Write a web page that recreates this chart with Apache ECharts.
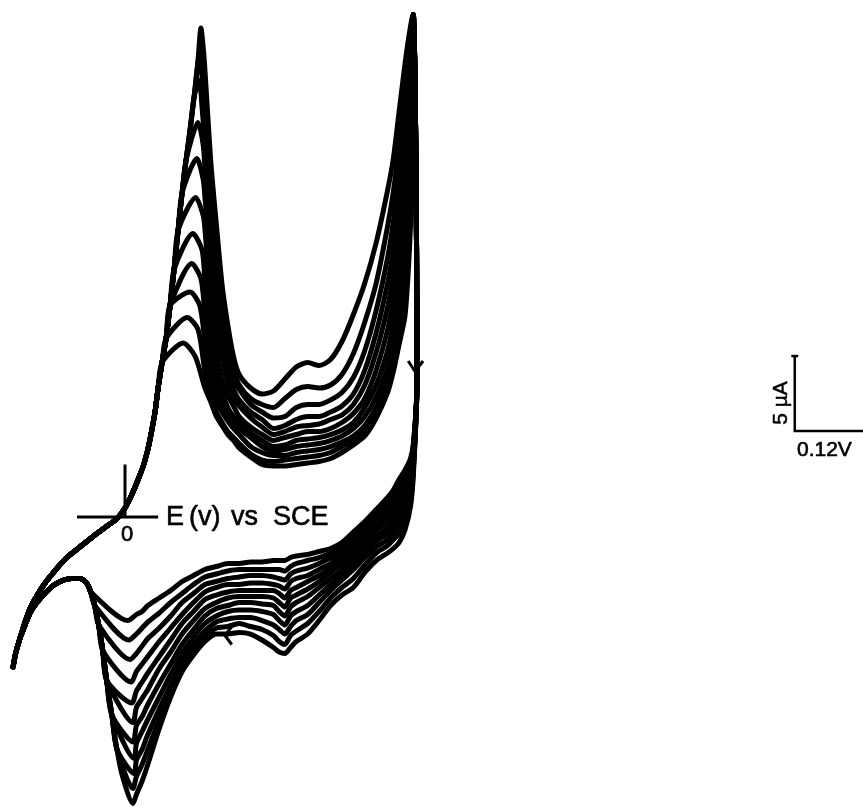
<!DOCTYPE html>
<html><head><meta charset="utf-8">
<script src="https://cdn.jsdelivr.net/npm/echarts/dist/echarts.min.js"></script>
<style>html,body{margin:0;padding:0;background:#fff}#c{width:863px;height:808px}</style>
</head><body><div id="c"></div>
<script>
// Cyclic voltammogram, 11 successive cycles. Potential E in V vs SCE, current in µA (anodic up).
const cycleCount = 11;

// forward sweep: common rising edge from the negative switching potential to the first anodic peak
const riseE = [-0.196,-0.191,-0.184,-0.175,-0.165,-0.152,-0.138,-0.121,-0.102,-0.079,-0.056,-0.035,-0.014,0.000,0.012,0.023,0.032,0.040,0.047,0.053,0.058,0.065,0.072,0.079,0.086,0.093,0.100,0.107,0.114,0.121,0.128];
const riseI = [-10.0,-9.0,-8.1,-7.0,-6.0,-5.1,-4.3,-3.5,-2.7,-2.0,-1.3,-0.7,-0.1,0.6,1.5,2.5,3.4,4.5,5.8,7.1,8.6,10.3,11.9,14.1,16.5,19.1,21.6,23.8,25.8,28.0,30.5];

// first anodic peak of every cycle
const anodicPeakE = [0.102,0.109,0.114,0.117,0.119,0.124,0.126,0.128,0.130,0.131,0.133];
const anodicPeakI = [11.6,13.3,15.0,16.9,18.9,21.3,23.9,26.3,29.1,30.9,32.6];
const anodicFootE = [0.123,0.128,0.131,0.133,0.135,0.137,0.137,0.137,0.135,0.135,0.137];
const anodicFootI = [10.7,12.5,14.1,15.9,17.8,20.1,22.5,24.8,27.3,29.3,31.3];

// forward sweep after the first peak
const forwardE = [0.14,0.15,0.16,0.17,0.18,0.19,0.20,0.22,0.24,0.26,0.28,0.30,0.32,0.34,0.36,0.38,0.40,0.42,0.44,0.46,0.47,0.48,0.49,0.495,0.50,0.503];
const forwardI = [
  [8.6,7.7,6.7,6.1,5.5,5.1,4.6,4.0,3.5,3.4,3.4,3.5,3.6,3.7,3.9,4.3,4.8,5.4,6.6,8.3,9.7,11.5,13.3,15.7,19.5,25.5],
  [9.7,8.1,7.0,6.3,5.7,5.3,4.9,4.2,3.8,3.7,3.8,3.9,4.0,4.1,4.3,4.7,5.1,5.7,6.9,8.6,9.9,11.7,13.8,16.6,20.8,26.8],
  [11.7,9.0,7.7,7.0,6.4,5.9,5.5,4.7,4.3,4.1,4.1,4.3,4.4,4.5,4.7,5.0,5.4,6.1,7.3,9.1,10.5,12.3,15.3,18.1,22.6,28.1],
  [13.6,10.7,8.6,7.5,6.9,6.4,5.9,5.3,4.7,4.4,4.5,4.7,4.8,4.9,5.1,5.4,5.9,6.7,8.0,10.0,11.6,13.8,16.9,19.9,24.3,29.5],
  [15.8,12.0,9.8,8.3,7.3,6.7,6.3,5.6,5.1,4.7,4.8,5.1,5.2,5.3,5.5,5.8,6.3,7.3,8.8,11.1,12.9,15.3,18.7,21.6,25.9,30.5],
  [19.2,14.6,11.0,9.1,8.1,7.4,6.7,6.0,5.5,5.1,5.3,5.5,5.7,5.7,5.9,6.3,6.9,7.9,9.8,12.5,14.5,17.1,20.7,23.5,27.5,31.1],
  [21.3,17.3,12.1,10.5,8.9,8.0,7.4,6.6,6.0,5.5,5.7,6.0,6.1,6.2,6.5,6.8,7.5,8.8,11.0,14.0,16.1,18.9,22.6,25.3,28.8,31.7],
  [23.3,19.0,14.5,11.5,9.5,8.5,7.8,7.0,6.5,5.9,6.1,6.5,6.7,6.7,7.0,7.4,8.2,9.8,12.3,15.6,17.8,20.8,24.5,27.0,29.8,32.1],
  [24.9,20.6,16.1,12.0,10.6,9.1,8.5,7.5,7.0,6.6,6.7,7.3,7.5,7.5,7.8,8.3,9.3,11.1,13.8,17.3,19.7,22.7,26.3,28.5,30.8,32.6],
  [26.7,21.7,17.5,13.7,11.1,9.8,8.8,7.9,7.5,7.3,7.9,8.5,8.7,8.6,8.8,9.5,10.9,13.0,15.6,19.4,21.7,24.7,28.3,30.2,32.0,33.1],
  [29.8,23.8,19.5,15.5,12.8,10.7,9.5,8.6,8.2,8.4,9.2,10.0,10.3,10.1,10.5,11.7,13.5,15.6,18.3,21.8,23.9,27.0,30.1,31.5,32.7,33.3]
];

// positive switching potential and start of the reverse sweep (common)
const vertexE = [0.505,0.508,0.510,0.511,0.511];
const vertexI = [33.5,29.1,21.1,14.5,8.5];

// reverse (cathodic) sweep
const reverseE = [0.505,0.50,0.49,0.48,0.47,0.46,0.44,0.42,0.40,0.38,0.36,0.34,0.32,0.30,0.29,0.28,0.27,0.26,0.24,0.22,0.20,0.18,0.16,0.14,0.12,0.10,0.08,0.06,0.04,0.03,0.02];
const reverseI = [
  [4.9,3.9,3.1,2.5,1.8,1.3,0.5,-0.3,-1.0,-1.7,-2.1,-2.3,-2.5,-2.6,-2.7,-2.9,-2.9,-2.9,-3.0,-3.0,-3.1,-3.1,-3.3,-3.5,-3.9,-4.3,-4.9,-5.4,-5.9,-6.3,-6.5],
  [4.7,3.7,2.7,2.1,1.5,1.1,0.2,-0.5,-1.3,-1.9,-2.4,-2.7,-2.9,-3.1,-3.3,-3.6,-3.5,-3.5,-3.5,-3.5,-3.5,-3.6,-3.8,-4.0,-4.5,-5.1,-5.7,-6.4,-7.0,-7.4,-7.8],
  [4.5,3.4,2.4,1.8,1.2,0.7,-0.1,-0.8,-1.5,-2.2,-2.7,-3.1,-3.4,-3.6,-3.8,-4.2,-4.1,-4.0,-3.9,-3.9,-4.0,-4.1,-4.3,-4.5,-5.1,-5.7,-6.6,-7.4,-8.1,-8.6,-9.1],
  [4.3,3.1,2.1,1.5,0.9,0.4,-0.3,-1.1,-1.8,-2.5,-3.1,-3.5,-3.9,-4.1,-4.3,-4.8,-4.6,-4.5,-4.4,-4.4,-4.5,-4.5,-4.7,-5.0,-5.7,-6.5,-7.4,-8.3,-9.3,-9.8,-10.3],
  [4.1,2.9,1.7,1.1,0.5,0.1,-0.6,-1.3,-2.1,-2.8,-3.4,-3.9,-4.3,-4.7,-4.9,-5.4,-5.1,-4.9,-4.9,-4.9,-4.9,-5.0,-5.2,-5.5,-6.3,-7.1,-8.2,-9.3,-10.4,-11.0,-11.6],
  [3.9,2.6,1.4,0.7,0.2,-0.3,-0.9,-1.7,-2.4,-3.1,-3.7,-4.3,-4.8,-5.2,-5.4,-6.0,-5.7,-5.4,-5.3,-5.3,-5.3,-5.4,-5.7,-6.1,-6.9,-7.8,-9.0,-10.1,-11.5,-12.1,-12.7],
  [3.7,2.3,1.0,0.3,-0.2,-0.7,-1.3,-2.0,-2.7,-3.5,-4.1,-4.7,-5.3,-5.7,-6.0,-6.6,-6.3,-5.9,-5.8,-5.7,-5.7,-5.9,-6.1,-6.6,-7.5,-8.5,-9.8,-11.1,-12.5,-13.3,-13.9],
  [3.5,1.9,0.6,-0.1,-0.6,-1.1,-1.6,-2.3,-3.1,-3.8,-4.5,-5.2,-5.9,-6.3,-6.6,-7.2,-6.9,-6.5,-6.3,-6.2,-6.2,-6.3,-6.6,-7.1,-8.0,-9.1,-10.5,-12.0,-13.5,-14.3,-15.1],
  [3.3,1.5,0.1,-0.5,-1.1,-1.5,-2.0,-2.7,-3.5,-4.2,-4.9,-5.7,-6.5,-6.9,-7.3,-7.8,-7.5,-7.2,-6.9,-6.7,-6.7,-6.8,-7.0,-7.6,-8.5,-9.6,-11.2,-12.8,-14.5,-15.5,-16.2],
  [3.1,1.1,-0.3,-1.1,-1.5,-1.9,-2.4,-3.2,-4.1,-4.7,-5.4,-6.3,-7.1,-7.6,-7.9,-8.5,-8.3,-7.9,-7.5,-7.3,-7.1,-7.3,-7.4,-8.0,-8.9,-10.0,-11.7,-13.5,-15.5,-16.5,-17.3],
  [2.8,0.7,-0.9,-1.7,-2.1,-2.4,-2.9,-3.7,-4.7,-5.2,-5.9,-6.9,-7.8,-8.3,-8.7,-9.1,-9.0,-8.7,-8.2,-7.8,-7.7,-7.8,-7.8,-8.3,-9.2,-10.3,-12.0,-14.1,-16.5,-17.6,-18.5]
];

// cathodic peak of every cycle
const cathodicPeakE = [0.005,0.007,0.009,0.011,0.012,0.014,0.014,0.016,0.016,0.014,0.014];
const cathodicPeakI = [-6.9,-8.2,-9.5,-11.0,-12.4,-13.7,-15.0,-16.1,-17.1,-18.1,-19.1];

// common return edge of the cathodic peaks and the tail to the negative switching potential
const returnE = [0.004,-0.005,-0.014,-0.023,-0.032,-0.039,-0.046,-0.053,-0.060,-0.067];
const returnI = [-18.5,-17.2,-15.5,-13.2,-10.9,-8.9,-7.2,-5.9,-5.0,-4.4];
const tailE = [-0.079,-0.093,-0.107,-0.123,-0.138,-0.152,-0.165,-0.175,-0.184,-0.191,-0.196];
const tailI = [-4.1,-4.1,-4.2,-4.5,-5.0,-5.6,-6.3,-7.2,-8.1,-9.0,-10.0];

// annotations (data units)
const axisCrossH = [[-0.084,0],[0.058,0]];
const axisCrossV = [[0,3.5],[0,0]];
const sweepArrowDown = [[0.496,10.4],[0.508,9.7],[0.522,10.4]];
const sweepArrowLeft = [[0.187,-7.3],[0.175,-7.9],[0.187,-8.5]];
const scaleBarOrigin = [1.173, 5.73];
const scaleBarCurrent = 5;    // µA
const scaleBarPotential = 0.12; // V

const series = [];
const lineStyle = {color:'#000', width:5, join:'round', cap:'round'};
for (let k = 0; k < cycleCount; k++) {
  const pts = [];
  for (let i = 0; i < riseE.length; i++)
    if (riseE[i] < anodicPeakE[k] && riseI[i] < anodicPeakI[k] - 0.8) pts.push([riseE[i], riseI[i]]);
  pts.push([anodicPeakE[k], anodicPeakI[k]]);
  pts.push([anodicFootE[k], anodicFootI[k]]);
  forwardE.forEach((e, i) => pts.push([e, forwardI[k][i]]));
  vertexE.forEach((e, i) => pts.push([e, vertexI[i]]));
  reverseE.forEach((e, i) => pts.push([e, reverseI[k][i]]));
  pts.push([cathodicPeakE[k], cathodicPeakI[k]]);
  returnE.forEach((e, i) => { if (e < cathodicPeakE[k] && returnI[i] > cathodicPeakI[k] + 1.0) pts.push([e, returnI[i]]); });
  tailE.forEach((e, i) => pts.push([e, tailI[i]]));
  series.push({type:'line', data:pts, symbol:'none', smooth:0.25, lineStyle:lineStyle, silent:true, animation:false});
}
function annot(data, w) {
  return {type:'line', data:data, symbol:'none', lineStyle:{color:'#000', width:w, join:'miter', cap:'butt'}, silent:true, animation:false};
}
series.push(annot(axisCrossH, 3));
series.push(annot(axisCrossV, 3));
series.push(annot(sweepArrowDown, 3));
series.push(annot(sweepArrowLeft, 3));
const sx = scaleBarOrigin[0], sy = scaleBarOrigin[1];
series.push(annot([[sx, sy + scaleBarCurrent],[sx, sy],[sx + scaleBarPotential, sy]], 2.5));
series.push(annot([[sx - 0.006, sy + scaleBarCurrent],[sx + 0.006, sy + scaleBarCurrent]], 2.5));

const fam = '"Liberation Sans", Arial, sans-serif';
const txt = (t, x, y, size, extra) => Object.assign({type:'text', x:x, y:y,
  style:{text:t, fill:'#000', fontSize:size, fontFamily:fam, stroke:'#000', lineWidth:0.6, textVerticalAlign:'middle'}}, extra || {});

const chart = echarts.init(document.getElementById('c'), null, {renderer:'canvas'});
chart.setOption({
  backgroundColor:'#fff',
  animation:false,
  grid:{left:0, right:0, top:0, bottom:0},
  xAxis:{type:'value', min:-0.2189, max:1.2925, show:false},
  yAxis:{type:'value', min:-19.4, max:34.467, show:false},
  series:series,
  graphic:[
    txt('E', 166, 518, 27),
    txt('(v)', 189, 518, 27),
    txt('vs', 231, 518, 27),
    txt('SCE', 273, 518, 27),
    txt('0', 121, 535, 22),
    txt('0.12V', 797, 450, 21),
    {type:'text', x:781, y:403, rotation:Math.PI/2, style:{text:'5 µA', fill:'#000', fontSize:21, fontFamily:fam, stroke:'#000', lineWidth:0.5, textAlign:'center', textVerticalAlign:'middle'}}
  ]
});
</script></body></html>
